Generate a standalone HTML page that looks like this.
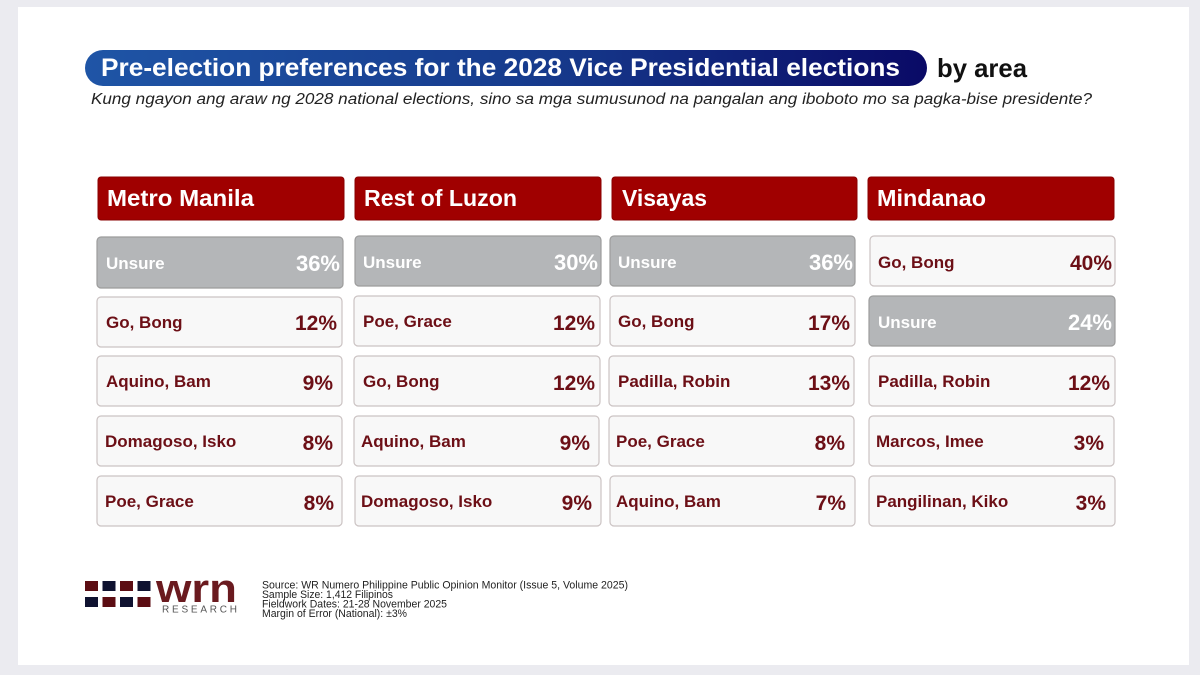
<!DOCTYPE html>
<html><head><meta charset="utf-8"><style>
html,body{margin:0;padding:0;background:#ebebf0;}
svg{display:block;}
text{font-family:"Liberation Sans",Arial,sans-serif;}
</style></head><body>
<svg width="1200" height="675" viewBox="0 0 1200 675" xmlns="http://www.w3.org/2000/svg">
<defs>
<linearGradient id="pill" x1="0" y1="0" x2="1" y2="0">
<stop offset="0" stop-color="#1f55a6"/>
<stop offset="0.55" stop-color="#163a8c"/>
<stop offset="1" stop-color="#0a0a66"/>
</linearGradient>
</defs>
<rect x="0" y="0" width="1200" height="675" fill="#ebebf0"/>
<rect x="18" y="7" width="1171" height="658" fill="#ffffff"/>

<!-- Title -->
<rect x="85" y="50" width="842" height="36" rx="18" fill="url(#pill)"/>
<text x="101" y="76" font-size="25" font-weight="bold" fill="#ffffff" textLength="799" lengthAdjust="spacingAndGlyphs">Pre-election preferences for the 2028 Vice Presidential elections</text>
<text x="937" y="77" font-size="26" font-weight="bold" fill="#111111" textLength="90" lengthAdjust="spacingAndGlyphs">by area</text>
<text x="91" y="104" font-size="15.5" font-style="italic" fill="#222222" textLength="1001" lengthAdjust="spacingAndGlyphs">Kung ngayon ang araw ng 2028 national elections, sino sa mga sumusunod na pangalan ang iboboto mo sa pagka-bise presidente?</text>

<!-- Headers -->
<g fill="#a00000" stroke="#8a0000" stroke-width="1">
<rect x="98" y="177" width="246" height="43" rx="3"/>
<rect x="355" y="177" width="246" height="43" rx="3"/>
<rect x="612" y="177" width="245" height="43" rx="3"/>
<rect x="868" y="177" width="246" height="43" rx="3"/>
</g>
<g fill="#ffffff" font-size="23" font-weight="bold">
<text x="107" y="206" textLength="147" lengthAdjust="spacingAndGlyphs">Metro Manila</text>
<text x="364" y="206" textLength="153" lengthAdjust="spacingAndGlyphs">Rest of Luzon</text>
<text x="622" y="206" textLength="85" lengthAdjust="spacingAndGlyphs">Visayas</text>
<text x="877" y="206" textLength="109" lengthAdjust="spacingAndGlyphs">Mindanao</text>
</g>

<!-- Cells: normal -->
<g fill="#f8f8f8" stroke="#cbc3c3" stroke-width="1.2">
<rect x="97" y="297" width="245" height="50" rx="4"/>
<rect x="97" y="356" width="245" height="50" rx="4"/>
<rect x="97" y="416" width="245" height="50" rx="4"/>
<rect x="97" y="476" width="245" height="50" rx="4"/>

<rect x="354" y="296" width="246" height="50" rx="4"/>
<rect x="354" y="356" width="246" height="50" rx="4"/>
<rect x="354" y="416" width="245" height="50" rx="4"/>
<rect x="355" y="476" width="246" height="50" rx="4"/>

<rect x="610" y="296" width="245" height="50" rx="4"/>
<rect x="609" y="356" width="245" height="50" rx="4"/>
<rect x="609" y="416" width="245" height="50" rx="4"/>
<rect x="610" y="476" width="245" height="50" rx="4"/>

<rect x="870" y="236" width="245" height="50" rx="4"/>
<rect x="869" y="356" width="246" height="50" rx="4"/>
<rect x="869" y="416" width="245" height="50" rx="4"/>
<rect x="869" y="476" width="246" height="50" rx="4"/>
</g>
<!-- Cells: unsure -->
<g fill="#b4b6b8" stroke="#9c9c9c" stroke-width="1.2">
<rect x="97" y="237" width="246" height="51" rx="4"/>
<rect x="355" y="236" width="246" height="50" rx="4"/>
<rect x="610" y="236" width="245" height="50" rx="4"/>
<rect x="869" y="296" width="246" height="50" rx="4"/>
</g>

<!-- Labels -->
<g font-size="17" font-weight="bold" fill="#6c0f16">
<text x="106" y="328">Go, Bong</text>
<text x="106" y="387">Aquino, Bam</text>
<text x="105" y="447">Domagoso, Isko</text>
<text x="105" y="507">Poe, Grace</text>

<text x="363" y="327">Poe, Grace</text>
<text x="363" y="387">Go, Bong</text>
<text x="361" y="447">Aquino, Bam</text>
<text x="361" y="507">Domagoso, Isko</text>

<text x="618" y="327">Go, Bong</text>
<text x="618" y="387">Padilla, Robin</text>
<text x="616" y="447">Poe, Grace</text>
<text x="616" y="507">Aquino, Bam</text>

<text x="878" y="268">Go, Bong</text>
<text x="878" y="387">Padilla, Robin</text>
<text x="876" y="447">Marcos, Imee</text>
<text x="876" y="507">Pangilinan, Kiko</text>
</g>
<g font-size="21" font-weight="bold" fill="#6c0f16" text-anchor="end">
<text x="337" y="330">12%</text>
<text x="333" y="390">9%</text>
<text x="333" y="450">8%</text>
<text x="334" y="510">8%</text>

<text x="595" y="330">12%</text>
<text x="595" y="390">12%</text>
<text x="590" y="450">9%</text>
<text x="592" y="510">9%</text>

<text x="850" y="330">17%</text>
<text x="850" y="390">13%</text>
<text x="845" y="450">8%</text>
<text x="846" y="510">7%</text>

<text x="1112" y="270">40%</text>
<text x="1110" y="390">12%</text>
<text x="1104" y="450">3%</text>
<text x="1106" y="510">3%</text>
</g>
<g font-size="17" font-weight="bold" fill="#ffffff">
<text x="106" y="269">Unsure</text>
<text x="363" y="268">Unsure</text>
<text x="618" y="268">Unsure</text>
<text x="878" y="328">Unsure</text>
</g>
<g font-size="22" font-weight="bold" fill="#ffffff" text-anchor="end">
<text x="340" y="271">36%</text>
<text x="598" y="270">30%</text>
<text x="853" y="270">36%</text>
<text x="1112" y="330">24%</text>
</g>

<!-- Logo -->
<g>
<rect x="85" y="581" width="13" height="10" fill="#5c0d13"/>
<rect x="102.5" y="581" width="13" height="10" fill="#0f1230"/>
<rect x="120" y="581" width="13" height="10" fill="#5c0d13"/>
<rect x="137.5" y="581" width="13" height="10" fill="#0f1230"/>
<rect x="85" y="597" width="13" height="10" fill="#0f1230"/>
<rect x="102.5" y="597" width="13" height="10" fill="#5c0d13"/>
<rect x="120" y="597" width="13" height="10" fill="#0f1230"/>
<rect x="137.5" y="597" width="13" height="10" fill="#5c0d13"/>
</g>
<text x="156" y="602" font-size="40" font-weight="bold" fill="#6a1a1f" textLength="81" lengthAdjust="spacingAndGlyphs">wrn</text>
<text x="162" y="612.5" font-size="10" fill="#555555" textLength="75" lengthAdjust="spacing">RESEARCH</text>

<!-- Footer -->
<g font-size="11" fill="#222222">
<text x="262" y="588.5" textLength="366" lengthAdjust="spacingAndGlyphs">Source: WR Numero Philippine Public Opinion Monitor (Issue 5, Volume 2025)</text>
<text x="262" y="598" textLength="131" lengthAdjust="spacingAndGlyphs">Sample Size: 1,412 Filipinos</text>
<text x="262" y="607.5" textLength="185" lengthAdjust="spacingAndGlyphs">Fieldwork Dates: 21-28 November 2025</text>
<text x="262" y="617" textLength="145" lengthAdjust="spacingAndGlyphs">Margin of Error (National): ±3%</text>
</g>
</svg>
</body></html>
